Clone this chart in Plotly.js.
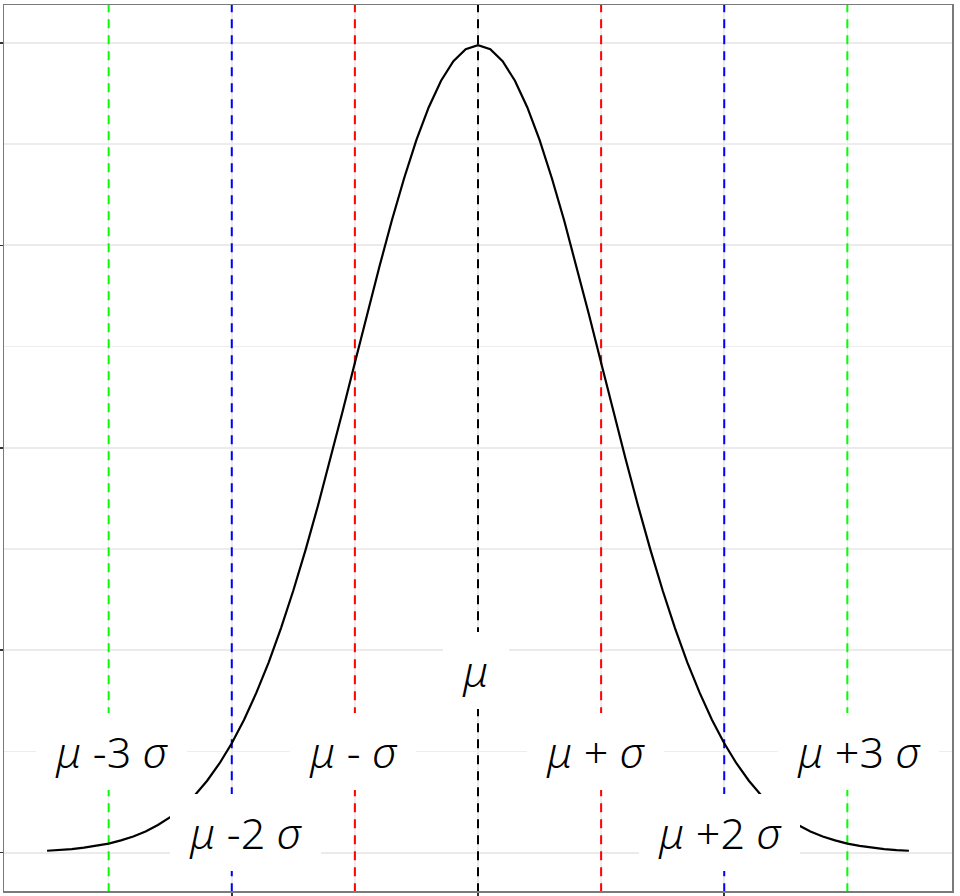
<!DOCTYPE html>
<html>
<head>
<meta charset="utf-8">
<script src="https://cdn.plot.ly/plotly-3.0.1.min.js"></script>
<style>html,body{margin:0;padding:0;background:#fff;}#chart{width:960px;height:896px;}</style>
</head>
<body>
<div id="chart"></div>
<script>
// Density curve
const curveX = [-3.5,-3.4,-3.3,-3.2,-3.1,-3.0,-2.9,-2.8,-2.7,-2.6,-2.5,-2.4,-2.3,-2.2,-2.1,-2.0,-1.9,-1.8,-1.7,-1.6,-1.5,-1.4,-1.3,-1.2,-1.1,-1.0,-0.9,-0.8,-0.7,-0.6,-0.5,-0.4,-0.3,-0.2,-0.1,0.0,0.1,0.2,0.3,0.4,0.5,0.6,0.7,0.8,0.9,1.0,1.1,1.2,1.3,1.4,1.5,1.6,1.7,1.8,1.9,2.0,2.1,2.2,2.3,2.4,2.5,2.6,2.7,2.8,2.9,3.0,3.1,3.2,3.3,3.4,3.5];
const curveY = [0.0009,0.0012,0.0017,0.0024,0.0033,0.0044,0.0060,0.0079,0.0104,0.0136,0.0175,0.0224,0.0283,0.0355,0.0440,0.0540,0.0656,0.0790,0.0940,0.1109,0.1295,0.1497,0.1714,0.1942,0.2179,0.2420,0.2661,0.2897,0.3123,0.3332,0.3521,0.3683,0.3814,0.3910,0.3970,0.3989,0.3970,0.3910,0.3814,0.3683,0.3521,0.3332,0.3123,0.2897,0.2661,0.2420,0.2179,0.1942,0.1714,0.1497,0.1295,0.1109,0.0940,0.0790,0.0656,0.0540,0.0440,0.0355,0.0283,0.0224,0.0175,0.0136,0.0104,0.0079,0.0060,0.0044,0.0033,0.0024,0.0017,0.0012,0.0009];

// Reference lines
const lineX = [-3, -2, -1, 0, 1, 2, 3];
const lineColors = ['#00ff00', '#0000ff', '#ff0000', '#000000', '#ff0000', '#0000ff', '#00ff00'];

// Labels
const labelX = [-3, -2, -1, 0, 1, 2, 3];
const labelY = [0.05, 0.01, 0.05, 0.09, 0.05, 0.01, 0.05];
const labelText = ['<i>μ</i>\u00a0-3\u00a0<i>σ</i>', '<i>μ</i>\u00a0-2\u00a0<i>σ</i>', '<i>μ</i>\u00a0-\u00a0<i>σ</i>', '<i>μ</i>', '<i>μ</i>\u00a0+\u00a0<i>σ</i>', '<i>μ</i>\u00a0+2\u00a0<i>σ</i>', '<i>μ</i>\u00a0+3\u00a0<i>σ</i>'];
const labelShift = [3, 14, -2, -2, -6, -5, 11];

const traces = [];
lineX.forEach((v, i) => {
  traces.push({
    x: [v, v], y: [-1, 1], mode: 'lines', hoverinfo: 'skip',
    line: {color: lineColors[i], width: 2, dash: '9px,7px'}
  });
});
traces.push({
  x: curveX, y: curveY, mode: 'lines',
  line: {color: '#000000', width: 2.2}
});

const annotations = labelX.map((v, i) => ({
  x: v, y: labelY[i], xref: 'x', yref: 'y', text: '\u00a0' + labelText[i] + '\u00a0', xshift: labelShift[i],
  showarrow: false, bgcolor: '#ffffff', borderpad: 9, borderwidth: 0,
  font: {family: '"Noto Sans", sans-serif', size: 43, weight: 300, color: '#000000'}
}));

const layout = {
  width: 960, height: 896,
  margin: {l: 4, r: 8, t: 5, b: 5, pad: 0},
  paper_bgcolor: '#ffffff', plot_bgcolor: '#ffffff',
  showlegend: false,
  xaxis: {
    range: [-3.85, 3.85], tick0: 0, dtick: 2, showticklabels: false,
    ticks: 'outside', ticklen: 5, tickwidth: 1.5, tickcolor: '#333333',
    showgrid: true, gridcolor: '#ebebeb', gridwidth: 2,
    minor: {dtick: 1, showgrid: true, gridcolor: '#ededed', gridwidth: 1.5},
    zeroline: false, showline: true, mirror: true, linecolor: '#7a7a7a', linewidth: 1.5
  },
  yaxis: {
    range: [-0.019, 0.4188], tick0: 0, dtick: 0.1, showticklabels: false,
    ticks: 'outside', ticklen: 4, tickwidth: 1.5, tickcolor: '#333333',
    showgrid: true, gridcolor: '#ebebeb', gridwidth: 2,
    minor: {dtick: 0.05, showgrid: true, gridcolor: '#ededed', gridwidth: 1.5},
    zeroline: false, showline: true, mirror: true, linecolor: '#7a7a7a', linewidth: 1.5
  },
  annotations: annotations
};

Plotly.newPlot('chart', traces, layout, {staticPlot: true, displayModeBar: false});
</script>
</body>
</html>
